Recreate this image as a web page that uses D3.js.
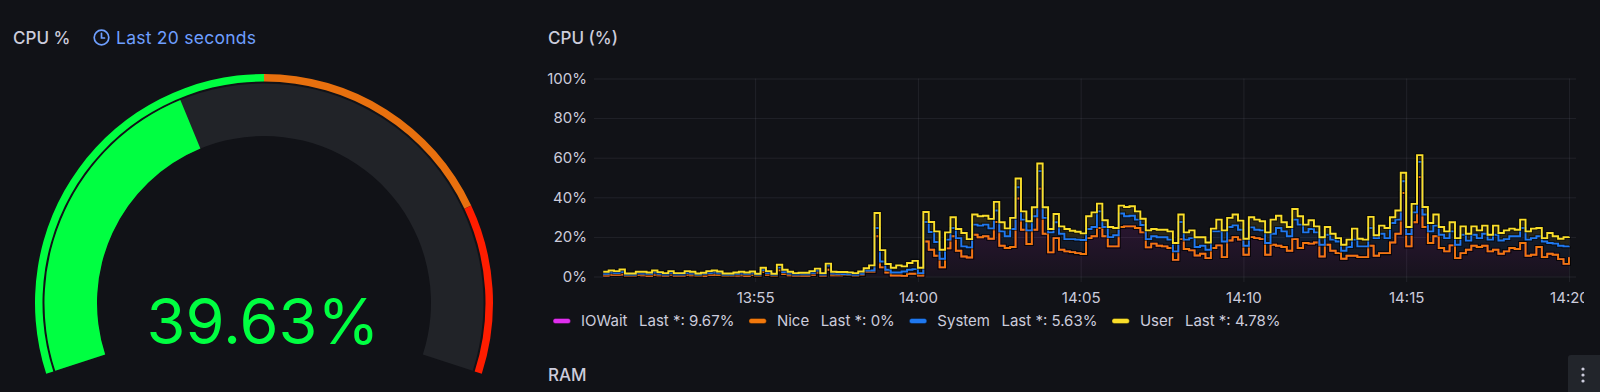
<!DOCTYPE html>
<html lang="en">
<head>
<meta charset="utf-8">
<title>CPU</title>
<script src="https://cdn.jsdelivr.net/npm/d3@7"></script>
<style>
  html, body { margin: 0; padding: 0; background: #111217; overflow: hidden; }
  svg { display: block; font-family: Inter, "Noto Sans", sans-serif; }
</style>
</head>
<body>
<svg id="main" width="1600" height="392"></svg>
<script>

// ---- data ----
var gaugeValue = 39.63;
var thresholdSteps = [0, 50, 80, 100];
var thresholdColors = ["#00ff41", "#e8700e", "#ff1d00"];

var seriesNames = ["IOWait", "Nice", "System", "User"];
var seriesColors = ["#e02fef", "#f2780c", "#1f78f0", "#fade2a"];
var lastValues = ["9.67%", "0%", "5.63%", "4.78%"];

var yTicks = [0, 20, 40, 60, 80, 100];
var xTickLabels = ["13:55", "14:00", "14:05", "14:10", "14:15", "14:20"];

// samples every 10 s from 13:50:20 to 14:20:00
var startTime = "13:50:20";
var stepSeconds = 10;

var iowait = [0.5,0.9,0.8,1.0,0.3,0.3,0.7,0.6,0.4,0.9,0.6,0.3,0.8,0.3,0.3,0.8,0.6,0.2,0.4,0.8,0.9,0.7,0.2,0.3,0.5,0.6,0.4,0.7,0.2,2.3,0.8,0.2,3.1,1.2,0.6,0.3,0.3,0.4,0.8,2.0,0.3,3.4,0.6,0.6,
  0.8,0.7,0.3,0.8,2.4,2.4,20.3,4.6,2.0,0.5,0.5,0.3,1.4,1.4,0.5,17.7,13.5,10.5,4.6,14.2,20.3,13.0,10.1,9.6,21.1,19.8,20.3,19.1,27.5,15.5,14.4,14.9,39.4,23.6,16.4,23.6,44.4,21.6,12.2,19.4,13.5,12.7,12.3,11.8,11.4,
  19.4,20.3,24.5,20.3,15.2,15.2,25.0,25.3,25.3,24.5,22.3,14.7,16.6,15.5,15.2,14.4,8.4,18.9,13.9,13.2,10.6,11.5,9.3,14.4,15.7,9.8,18.2,19.9,18.6,11.0,19.9,19.4,18.9,11.0,16.0,15.5,14.9,13.0,18.9,14.4,16.9,16.6,17.2,10.1,16.0,
  13.0,11.8,9.0,10.5,10.5,9.8,9.8,15.5,10.5,11.8,11.8,17.2,21.6,42.2,15.2,27.4,50.2,25.0,16.9,20.3,14.4,12.7,15.7,9.3,11.8,13.5,15.5,14.9,15.5,12.7,13.5,11.5,12.7,14.4,13.9,16.9,10.5,11.0,14.9,9.8,11.5,11.0,8.8,6.4,9.67];

var nice = [0,0,0,0,0,0,0,0,0,0,0,0,0,0,0,0,0,0,0,0,0,0,0,0,0,0,0,0,0,0,0,0,0,0,0,0,0,0,0,0,0,0,0,0,
  0,0,0,0,0,0,0,0,0,0,0,0,0,0,0,0,0,0,0,0,0,0,0,0,0,0,0,0,0,0,0,0,0,0,0,0,0,0,0,0,0,0,0,0,0,
  0,0,0,0,0,0,0,0,0,0,0,0,0,0,0,0,0,0,0,0,0,0,0,0,0,0,0,0,0,0,0,0,0,0,0,0,0,0,0,0,0,0,0,0,0,
  0,0,0,0,0,0,0,0,0,0,0,0,0,0,0,0,0,0,0,0,0,0,0,0,0,0,0,0,0,0,0,0,0,0,0,0,0,0,0,0,0,0,0,0,0];

var system = [0.9,1.1,1.0,1.3,0.6,0.6,0.9,0.9,0.8,1.1,0.8,0.7,1.0,0.7,0.7,1.0,0.9,0.6,0.8,1.0,1.1,0.9,0.6,0.6,0.8,0.9,0.8,0.9,0.6,1.0,1.0,0.6,1.4,1.1,0.9,0.7,0.8,0.7,1.0,1.0,0.7,2.1,0.9,0.8,
  0.5,0.4,0.5,0.6,0.6,0.6,4.2,3.0,1.4,1.5,1.5,2.2,2.0,2.3,1.2,9.8,9.0,6.9,4.4,4.4,4.2,6.4,5.1,5.1,5.1,5.9,5.9,5.2,5.8,7.3,5.9,9.1,5.7,5.1,6.9,6.8,8.8,8.0,10.1,8.0,8.1,6.2,6.6,6.8,7.0,
  4.6,4.7,8.4,4.7,4.7,5.6,6.8,5.1,5.4,4.2,3.7,4.2,3.7,4.3,4.6,4.2,4.3,8.6,4.7,6.2,4.3,4.0,4.2,8.4,7.1,7.9,6.8,5.9,5.0,4.5,4.9,4.2,4.4,5.9,5.6,9.0,7.9,7.3,9.8,11.8,5.4,7.4,5.1,5.9,5.1,
  5.6,5.9,4.0,4.4,8.1,5.4,5.4,9.0,8.9,9.8,7.6,9.8,7.1,5.9,6.3,5.0,7.7,6.3,5.9,5.4,6.7,6.7,7.1,6.7,9.3,4.6,5.6,4.5,6.1,5.9,7.6,6.7,6.2,5.9,6.4,7.6,8.1,8.4,5.4,7.9,5.4,5.6,6.7,8.8,5.63];

var user = [1.0,1.0,0.9,1.2,0.6,0.6,0.8,0.9,0.8,1.0,0.8,0.7,0.9,0.7,0.7,0.9,0.9,0.7,0.7,0.9,1.0,0.9,0.7,0.6,0.7,0.9,0.8,0.9,0.6,1.1,0.9,0.6,1.4,1.1,0.9,0.7,0.8,0.8,0.9,1.0,0.7,1.0,0.9,0.9,
  1.0,1.0,0.9,1.1,1.2,2.6,7.6,5.7,2.9,2.4,3.6,2.6,3.4,4.2,2.7,5.1,5.0,5.4,4.5,3.7,5.4,4.6,6.8,4.2,5.1,4.7,4.5,4.8,4.4,4.6,4.0,5.6,4.4,4.2,4.6,4.6,3.9,5.4,1.7,4.2,3.7,5.1,4.2,4.0,3.4,
  6.4,7.4,3.9,3.4,5.1,3.7,4.0,4.7,4.8,4.2,3.2,4.4,3.7,3.8,3.8,4.2,4.2,3.8,3.7,3.9,4.9,4.3,3.7,1.4,5.9,5.6,4.6,5.5,4.6,3.6,5.1,5.1,4.6,5.4,7.1,6.2,4.6,4.7,5.4,4.2,3.9,4.4,3.0,3.8,3.9,
  3.0,1.7,3.0,3.7,5.6,3.9,3.4,5.6,1.4,4.1,5.1,2.9,4.6,4.3,3.5,4.3,3.4,3.8,4.2,5.6,3.9,3.4,4.6,3.4,4.2,3.5,4.2,3.9,4.1,2.5,4.6,3.8,4.4,3.9,3.3,4.2,4.2,4.8,4.2,1.7,5.1,3.7,3.6,4.7,4.78];

// ---- helpers ----
var parseHM = d3.timeParse("%Y-%m-%d %H:%M:%S");
function at(hms) { return parseHM("2024-01-01 " + (hms.length == 5 ? hms + ":00" : hms)); }

var t0 = at(startTime);
var rows = iowait.map(function(v, i) {
  return {
    time: new Date(t0.getTime() + i * stepSeconds * 1000),
    IOWait: v, Nice: nice[i], System: system[i], User: user[i]
  };
});

var svg = d3.select("#main");
var textColor = "#ccccdc";

// ---- left panel: gauge ----
svg.append("text").attr("x", 13).attr("y", 44)
  .attr("fill", textColor).attr("font-size", 17).attr("font-weight", 500)
  .text("CPU %");

var clock = svg.append("g").attr("transform", "translate(101.5,37.5)")
  .attr("fill", "none").attr("stroke", "#6e9fff").attr("stroke-width", 1.7)
  .attr("stroke-linecap", "round");
clock.append("circle").attr("r", 7.3);
clock.append("path").attr("d", "M0,-4.2V0.5H3");

svg.append("text").attr("x", 116).attr("y", 44)
  .attr("fill", "#6e9fff").attr("font-size", 17.5).attr("letter-spacing", 0.25)
  .text("Last 20 seconds");

var gauge = svg.append("g").attr("transform", "translate(264,303)");
var sweep = 108 * Math.PI / 180;
var angle = d3.scaleLinear().domain([0, 100]).range([-sweep, sweep]);

// threshold band
for (var k = 0; k < thresholdColors.length; k++) {
  gauge.append("path")
    .attr("d", d3.arc()({
      innerRadius: 221.5, outerRadius: 229,
      startAngle: angle(thresholdSteps[k]), endAngle: angle(thresholdSteps[k + 1])
    }))
    .attr("fill", thresholdColors[k]);
}
// background track
gauge.append("path")
  .attr("d", d3.arc()({ innerRadius: 167, outerRadius: 219.5, startAngle: angle(0), endAngle: angle(100) }))
  .attr("fill", "#212328");
// value arc
gauge.append("path")
  .attr("d", d3.arc()({ innerRadius: 167, outerRadius: 219.5, startAngle: angle(0), endAngle: angle(gaugeValue) }))
  .attr("fill", thresholdColors[0]);

gauge.append("text").attr("x", -1).attr("y", 41)
  .attr("text-anchor", "middle").attr("fill", thresholdColors[0])
  .attr("font-size", 63).attr("font-weight", 400)
  .text(gaugeValue.toFixed(2) + "%");

// ---- right panel: time series ----
svg.append("text").attr("x", 548).attr("y", 44)
  .attr("fill", textColor).attr("font-size", 17).attr("font-weight", 500)
  .text("CPU (%)");

var x = d3.scaleTime().domain([at("13:50:03"), at("14:20:13")]).range([594, 1576]);
var y = d3.scaleLinear().domain([0, 100]).range([276.5, 78.5]);

var grid = svg.append("g").attr("stroke", "#ccccdc").attr("stroke-opacity", 0.09);
grid.selectAll("line.h").data(yTicks).enter().append("line")
  .attr("x1", 594).attr("x2", 1576)
  .attr("y1", function(d) { return y(d) + 0.5; }).attr("y2", function(d) { return y(d) + 0.5; });
var xTicks = xTickLabels.map(at);
grid.selectAll("line.v").data(xTicks).enter().append("line")
  .attr("y1", 78.5).attr("y2", 282)
  .attr("x1", function(d) { return x(d) + 0.5; }).attr("x2", function(d) { return x(d) + 0.5; });

var yAxis = svg.append("g").attr("transform", "translate(594,0)")
  .call(d3.axisLeft(y).tickValues(yTicks).tickSize(0).tickPadding(7)
    .tickFormat(function(d) { return d + "%"; }));
yAxis.select(".domain").remove();
yAxis.selectAll("text").attr("fill", textColor).attr("font-size", 15)
  .attr("font-family", "Inter, sans-serif");

// the last label is cut by the panel edge
svg.append("clipPath").attr("id", "axclip").append("rect")
  .attr("x", 590).attr("y", 270).attr("width", 994).attr("height", 50);
var xAxisWrap = svg.append("g").attr("clip-path", "url(#axclip)");
var xAxis = xAxisWrap.append("g").attr("transform", "translate(0,284)")
  .call(d3.axisBottom(x).tickValues(xTicks).tickSize(0).tickPadding(8)
    .tickFormat(d3.timeFormat("%H:%M")));
xAxis.select(".domain").remove();
xAxis.selectAll("text").attr("fill", textColor).attr("font-size", 15)
  .attr("font-family", "Inter, sans-serif");

// stacked series
var stacked = d3.stack().keys(seriesNames)(rows);

var defs = svg.append("defs");
seriesColors.forEach(function(c, i) {
  var g = defs.append("linearGradient").attr("id", "fill" + i)
    .attr("gradientUnits", "userSpaceOnUse")
    .attr("x1", 0).attr("x2", 0).attr("y1", y(40)).attr("y2", y(0));
  g.append("stop").attr("offset", 0).attr("stop-color", c).attr("stop-opacity", 0.16);
  g.append("stop").attr("offset", 1).attr("stop-color", c).attr("stop-opacity", 0.03);
});

var area = d3.area().curve(d3.curveStepAfter)
  .x(function(d) { return x(d.data.time); })
  .y0(function(d) { return y(d[0]); })
  .y1(function(d) { return y(d[1]); });
var line = d3.line().curve(d3.curveStepAfter)
  .x(function(d) { return x(d.data.time); })
  .y(function(d) { return y(d[1]); });

var plot = svg.append("g");
plot.selectAll("path.area").data(stacked).enter().append("path")
  .attr("d", area)
  .attr("fill", function(d, i) { return "url(#fill" + i + ")"; });

stacked.forEach(function(s, i) {
  plot.append("path").datum(s).attr("d", line)
    .attr("fill", "none").attr("stroke", "#000").attr("stroke-opacity", 0.5)
    .attr("stroke-width", 4).attr("stroke-linejoin", "miter");
  plot.append("path").datum(s).attr("d", line)
    .attr("fill", "none").attr("stroke", seriesColors[i])
    .attr("stroke-width", 1.9).attr("stroke-linejoin", "miter");
});

// legend
var legend = svg.append("g").attr("transform", "translate(553,321)");
var lx = 0;
seriesNames.forEach(function(name, i) {
  var g = legend.append("g").attr("transform", "translate(" + lx + ",0)");
  g.append("rect").attr("x", 0).attr("y", -2.5).attr("width", 17.5).attr("height", 5)
    .attr("rx", 2.5).attr("fill", seriesColors[i])
    .attr("stroke", "#000").attr("stroke-opacity", 0.4).attr("stroke-width", 0.8);
  var t1 = g.append("text").attr("x", 28).attr("y", 5.4)
    .attr("fill", textColor).attr("font-size", 15).text(name);
  var w1 = t1.node().getComputedTextLength();
  var t2 = g.append("text").attr("x", 28 + w1 + 11.5).attr("y", 5.4)
    .attr("fill", textColor).attr("font-size", 15).text("Last *: " + lastValues[i]);
  var w2 = t2.node().getComputedTextLength();
  lx += 28 + w1 + 11.5 + w2 + 14.5;
});

// next panel title and menu button
svg.append("text").attr("x", 548).attr("y", 381)
  .attr("fill", textColor).attr("font-size", 17).attr("font-weight", 500)
  .text("RAM");

var menu = svg.append("g");
menu.append("rect").attr("x", 1568).attr("y", 355).attr("width", 40).attr("height", 44)
  .attr("rx", 3).attr("fill", "#22252b");
menu.selectAll("circle").data([369, 375, 381]).enter().append("circle")
  .attr("cx", 1583).attr("cy", function(d) { return d; }).attr("r", 1.6)
  .attr("fill", textColor);

</script>
</body>
</html>
